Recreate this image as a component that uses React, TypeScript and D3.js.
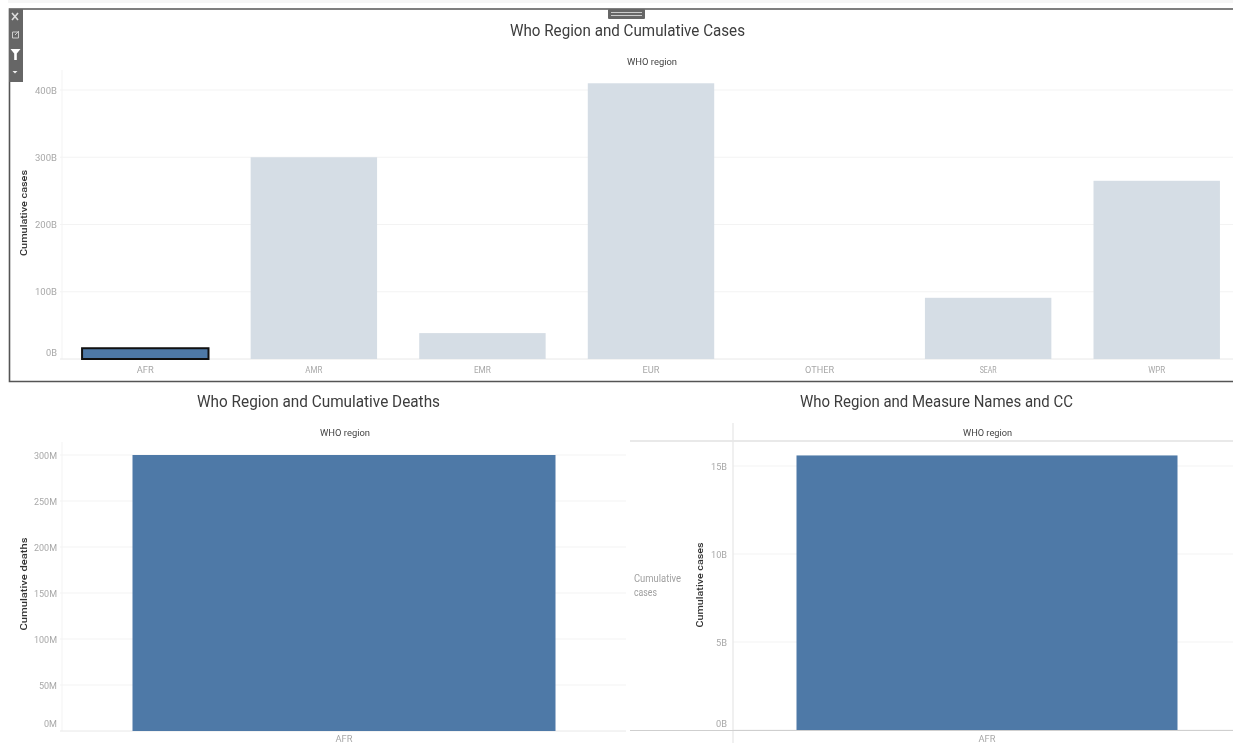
import React from "react";
import * as d3 from "d3";

const regions = ["AFR", "AMR", "EMR", "EUR", "OTHER", "SEAR", "WPR"];
const cumulativeCases = [16, 300, 38.5, 410, 0, 91, 265];
const selectedRegions = ["AFR"];
const caseTicks = [0, 100, 200, 300, 400];

const afrOnly = ["AFR"];
const afrDeaths = [300];
const deathTicks = [0, 50, 100, 150, 200, 250, 300];
const afrCases = [15.6];
const afrCaseTicks = [0, 5, 10, 15];

const FONT = "Roboto, 'Noto Sans', sans-serif";
const BLUE = "#4e79a7";
const PALE = "#d5dde5";
const GRID = "#f3f3f3";
const TICKTXT = "#a8a8a8";

function T(p: any) {
  const { w, children, ...rest } = p;
  return (
    <text fontFamily={FONT} filter="url(#soft)" {...(w ? { textLength: w, lengthAdjust: "spacingAndGlyphs" } : {})} {...rest}>
      {children}
    </text>
  );
}

function band(domain: string[], a: number, b: number) {
  return d3.scaleBand<string>().domain(domain).range([a, b]).paddingInner(0.25).paddingOuter(0.125);
}

export default function App() {
  const x1 = band(regions, 61, 1241);
  const y1 = d3.scaleLinear().domain([0, 400]).range([359, 90]);
  const x2 = band(afrOnly, 62, 626);
  const y2 = d3.scaleLinear().domain([0, 300]).range([731, 455]);
  const x3 = band(afrOnly, 733, 1241);
  const y3 = d3.scaleLinear().domain([0, 15]).range([730, 466]);

  return (
    <svg width={1233} height={743} style={{ position: "absolute", left: 0, top: 0, background: "#fff" }}>
      <defs>
        <filter id="soft" x="-5%" y="-30%" width="110%" height="160%">
          <feGaussianBlur stdDeviation="0.45" />
        </filter>
      </defs>

      <rect x={8} y={0} width={1225} height={3} fill="#f6f6f6" />

      {/* Top chart */}
      <line x1={62} x2={62} y1={70} y2={359} stroke={GRID} />
      {caseTicks.map((t) => (
        <g key={t}>
          <line x1={60} x2={1233} y1={y1(t)} y2={y1(t)} stroke={t === 0 ? "#e8e8e8" : GRID} />
          <T x={57} y={y1(t) + (t === 0 ? -3 : 3.5)} fontSize={9.5} fill={TICKTXT} textAnchor="end" w={t === 0 ? 11 : 22}>{`${t}B`}</T>
        </g>
      ))}
      {regions.map((r, i) => {
        const selected = selectedRegions.includes(r);
        const h = y1(0) - y1(cumulativeCases[i]);
        return (
          <g key={r}>
            {h > 0 && (
              <rect
                x={x1(r)}
                y={y1(cumulativeCases[i])}
                width={x1.bandwidth()}
                height={h}
                fill={selected ? BLUE : PALE}
                stroke={selected ? "#111" : "none"}
                strokeWidth={selected ? 2 : 0}
              />
            )}
            <T x={x1(r)! + x1.bandwidth() / 2} y={373} fontSize={9.5} fill={TICKTXT} textAnchor="middle" w={r === "OTHER" ? 29 : 17}>{r}</T>
          </g>
        );
      })}
      <T x={627.5} y={36} fontSize={17} fill="#3c3c3c" textAnchor="middle" w={235}>Who Region and Cumulative Cases</T>
      <T x={652} y={64.5} fontSize={9.5} fill="#444" textAnchor="middle" w={50}>WHO region</T>
      <T transform="translate(27,213) rotate(-90)" fontSize={9.5} fontWeight={500} fill="#333" textAnchor="middle" w={86}>Cumulative cases</T>

      {/* Frame */}
      <path d="M1233,9H9.5V381.5H1233" fill="none" stroke="#555" strokeWidth={1.6} />

      {/* Toolbar */}
      <rect x={9} y={9} width={14} height={73} fill="#666" />
      <path d="M12,13l6,7M18,13l-6,7" stroke="#ddd" strokeWidth={1.6} />
      <path d="M12.5,32h6v6h-6zM15,35l4,-4" stroke="#ccc" fill="none" strokeWidth={1} />
      <path d="M10.5,49h10l-3.7,4.5v6.5h-2.6v-6.5z" fill="#fff" />
      <path d="M12.5,71h5l-2.5,2.5z" fill="#eee" />

      {/* Move handle */}
      <rect x={608} y={9} width={37} height={10} rx={1} fill="#666" />
      <path d="M611,12.5h31M611,15.5h31" stroke="#ccc" strokeWidth={1} />

      {/* Bottom left chart */}
      <line x1={62} x2={62} y1={442} y2={731} stroke={GRID} />
      {deathTicks.map((t) => (
        <g key={t}>
          <line x1={60} x2={626} y1={y2(t)} y2={y2(t)} stroke={t === 0 ? "#e8e8e8" : GRID} />
          <T x={57} y={y2(t) + (t === 0 ? -4 : 3.5)} fontSize={9.5} fill={TICKTXT} textAnchor="end" w={t === 0 ? 13 : t < 100 ? 18 : 23}>{`${t}M`}</T>
        </g>
      ))}
      {afrOnly.map((r, i) => (
        <g key={r}>
          <rect x={x2(r)} y={y2(afrDeaths[i])} width={x2.bandwidth()} height={y2(0) - y2(afrDeaths[i])} fill={BLUE} />
          <T x={x2(r)! + x2.bandwidth() / 2} y={741.5} fontSize={8.5} fill={TICKTXT} textAnchor="middle" w={17}>{r}</T>
        </g>
      ))}
      <T x={318.5} y={407} fontSize={17} fill="#3c3c3c" textAnchor="middle" w={243}>Who Region and Cumulative Deaths</T>
      <T x={345} y={436} fontSize={9.5} fill="#444" textAnchor="middle" w={50}>WHO region</T>
      <T transform="translate(27,584) rotate(-90)" fontSize={9.5} fontWeight={500} fill="#333" textAnchor="middle" w={93}>Cumulative deaths</T>

      {/* Bottom right chart */}
      {afrCaseTicks.map((t) => (
        <g key={t}>
          <line x1={733} x2={1233} y1={y3(t)} y2={y3(t)} stroke={GRID} />
          <T x={727} y={y3(t) + (t === 0 ? -3 : 3.5)} fontSize={9.5} fill={TICKTXT} textAnchor="end" w={t >= 10 ? 16 : 11}>{`${t}B`}</T>
        </g>
      ))}
      <line x1={630} x2={1233} y1={441} y2={441} stroke="#e2e2e2" strokeWidth={1.3} />
      <line x1={733} x2={733} y1={423} y2={743} stroke="#e8e8e8" strokeWidth={1.3} />
      <line x1={630} x2={1233} y1={730.5} y2={730.5} stroke="#cfcfcf" />
      {afrOnly.map((r, i) => (
        <g key={r}>
          <rect x={x3(r)} y={y3(afrCases[i])} width={x3.bandwidth()} height={y3(0) - y3(afrCases[i])} fill={BLUE} />
          <T x={x3(r)! + x3.bandwidth() / 2} y={741.5} fontSize={8.5} fill={TICKTXT} textAnchor="middle" w={17}>{r}</T>
        </g>
      ))}
      <T x={936.5} y={407} fontSize={17} fill="#3c3c3c" textAnchor="middle" w={273}>Who Region and Measure Names and CC</T>
      <T x={987.5} y={436} fontSize={9.5} fill="#444" textAnchor="middle" w={49}>WHO region</T>
      <T transform="translate(703,585) rotate(-90)" fontSize={9.5} fontWeight={500} fill="#333" textAnchor="middle" w={85}>Cumulative cases</T>
      <T x={634} y={582} fontSize={10} fill="#a0a0a0" w={47}>Cumulative</T>
      <T x={634} y={596} fontSize={10} fill="#a0a0a0" w={23}>cases</T>
    </svg>
  );
}
